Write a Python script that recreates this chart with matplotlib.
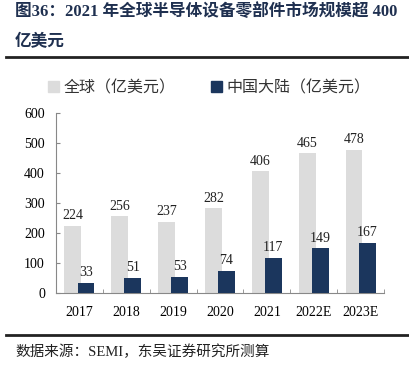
import numpy as np
import matplotlib.pyplot as plt
from matplotlib.lines import Line2D
from matplotlib.patches import Rectangle

# ---------- Datos ----------
years = ['2017', '2018', '2019', '2020', '2021', '2022E', '2023E']
global_vals = [224, 256, 237, 282, 406, 465, 478]
china_vals = [33, 51, 53, 74, 117, 149, 167]

title_l1 = '图36：2021 年全球半导体设备零部件市场规模超 400'
title_l2 = '亿美元'
legend_labels = ['全球（亿美元）', '中国大陆（亿美元）']
source = '数据来源：SEMI，东吴证券研究所测算'

c_grey = '#DCDCDC'
c_navy = '#1B365D'
c_title = '#1F3050'
fam = ['Liberation Serif', 'Noto Sans CJK SC']

plt.rcParams['font.family'] = fam

fig = plt.figure(figsize=(4.1, 3.73), dpi=100)
ax = fig.add_axes([56 / 410, 1 - 293 / 373, 328 / 410, 180 / 373])

x = np.arange(len(years))
w = 0.36
off = 0.14
ax.bar(x - off, global_vals, w, color=c_grey, zorder=2)
ax.bar(x + off, china_vals, w, color=c_navy, zorder=3)

for xi, v in zip(x, global_vals):
    ax.text(xi - off, v + 12, str(v), ha='center', va='bottom', fontsize=10, color='#222222')
for xi, v in zip(x, china_vals):
    ax.text(xi + off, v + 12, str(v), ha='center', va='bottom', fontsize=10, color='#222222')

ax.set_xlim(-0.5, len(years) - 0.5)
ax.set_ylim(0, 600)
ax.set_yticks(range(0, 601, 100))
ax.set_xticks(x)
ax.set_xticklabels(years)
ax.set_xticks(np.arange(-0.5, len(years), 1), minor=True)
ax.tick_params(axis='x', which='major', length=0, pad=9, labelsize=10)
ax.tick_params(axis='x', which='minor', length=3, direction='in', color='#888888')
ax.tick_params(axis='y', length=3, direction='in', color='#888888', pad=8, labelsize=10)
for s in ['top', 'right']:
    ax.spines[s].set_visible(False)
for s in ['left', 'bottom']:
    ax.spines[s].set_color('#888888')
    ax.spines[s].set_linewidth(0.8)

# Título
fig.text(15 / 410, 1 - 12 / 373, title_l1, fontsize=12, fontweight='bold', color=c_title,
         va='center', ha='left')
fig.text(15 / 410, 1 - 42 / 373, title_l2, fontsize=12, fontweight='bold', color=c_title,
         va='center', ha='left')
fig.add_artist(Line2D([6 / 410, 1], [1 - 57 / 373] * 2, color='#222222', lw=2))

# Leyenda
handles = [Rectangle((0, 0), 1, 1, color=c_grey), Rectangle((0, 0), 1, 1, color=c_navy)]
leg = fig.legend(handles, legend_labels, loc='center', bbox_to_anchor=(0.51, 1 - 88 / 373),
                 ncol=2, frameon=False, fontsize=11.5, handlelength=0.7, handleheight=0.7,
                 handletextpad=0.3, columnspacing=2.2)
for t in leg.get_texts():
    t.set_color('#333333')

# Fuente
fig.add_artist(Line2D([6 / 410, 1], [1 - 335 / 373] * 2, color='#222222', lw=2))
fig.text(15 / 410, 1 - 352 / 373, source, fontsize=10.5, color='#222222', va='center', ha='left')

fig.savefig('out.png', dpi=100)
